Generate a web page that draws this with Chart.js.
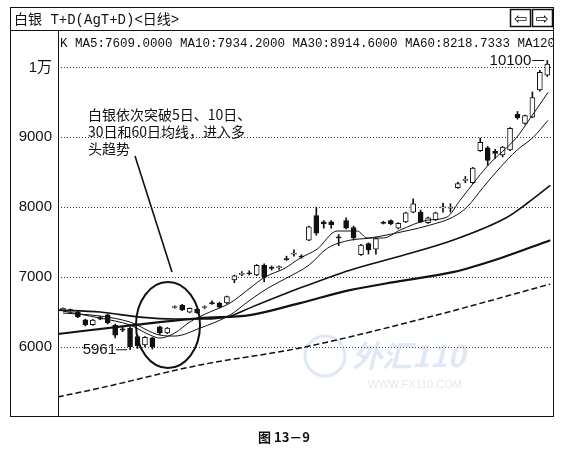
<!DOCTYPE html>
<html>
<head>
<meta charset="utf-8">
<style>
  html, body { margin: 0; padding: 0; background: #fff; }
  canvas { display: block; }
</style>
<script src="https://cdn.jsdelivr.net/npm/chart.js@4.4.1/dist/chart.umd.min.js"></script>
</head>
<body>
<canvas id="kline" width="568" height="452"></canvas>
<script>
// daily candles (index = trading day)
var opens  = [6530, 6535, 6500, 6390, 6320, 6420, 6460, 6310, 6260, 6270, 6150, 6030, 6130, 6290, 6200, 6565, 6600, 6500, 6540, 6565,
              6635, 6630, 6630, 6960, 7040, 7060, 7030, 7170, 7140, 7135, 7265, 7330, 7300, 7530, 7880, 7790, 7790, 7575, 7810, 7710,
              7320, 7480, 7400, 7785, 7810, 7700, 7790, 7930, 7930, 7780, 7820, 7990, 7985, 8280, 8385, 8350, 8810, 8850, 8800, 8750,
              8820, 9330, 9200, 9290, 9680, 9890];
var highs  = [6560, 6545, 6520, 6400, 6395, 6440, 6470, 6330, 6290, 6290, 6170, 6150, 6140, 6300, 6280, 6590, 6610, 6560, 6550, 6590,
              6660, 6640, 6730, 7030, 7080, 7090, 7180, 7190, 7160, 7160, 7300, 7390, 7320, 7730, 8000, 7810, 7810, 7610, 7850, 7730,
              7470, 7490, 7560, 7800, 7820, 7780, 7930, 8120, 7960, 7860, 7930, 8060, 8050, 8360, 8440, 8570, 8990, 8870, 8830, 8870,
              9140, 9370, 9320, 9650, 9960, 10100];
var lows   = [6520, 6510, 6420, 6300, 6310, 6390, 6330, 6130, 6220, 5961, 5980, 6000, 5970, 6180, 6190, 6555, 6520, 6490, 6480, 6550,
              6610, 6560, 6620, 6920, 7020, 7030, 7020, 6930, 7100, 7110, 7240, 7300, 7270, 7520, 7600, 7700, 7700, 7450, 7690, 7530,
              7310, 7330, 7330, 7760, 7750, 7690, 7780, 7920, 7780, 7770, 7810, 7930, 7930, 8270, 8350, 8340, 8800, 8600, 8700, 8720,
              8810, 9260, 9190, 9280, 9660, 9870];
var closes = [6555, 6520, 6430, 6320, 6385, 6400, 6345, 6170, 6240, 6000, 6020, 6140, 6000, 6200, 6270, 6580, 6530, 6555, 6490, 6580,
              6620, 6570, 6720, 7020, 7055, 7045, 7170, 7000, 7125, 7150, 7250, 7345, 7285, 7720, 7630, 7760, 7750, 7560, 7700, 7560,
              7460, 7390, 7550, 7770, 7760, 7770, 7920, 8050, 7790, 7850, 7920, 8005, 8000, 8340, 8400, 8560, 8930, 8670, 8770, 8860,
              9130, 9280, 9310, 9570, 9930, 10050];

// moving averages: [day index, price]
var ma5   = [[0, 6514], [5, 6414], [9, 6314], [11.7, 6171], [13, 6128], [15, 6200], [17, 6357], [19.7, 6500], [22.4, 6628],
             [25.1, 6843], [27.1, 7000], [29.8, 7128], [31.8, 7271], [34.1, 7400], [36.8, 7660], [39.5, 7660], [40.8, 7560],
             [43, 7560], [45.2, 7671], [48.9, 7814], [51.5, 7857], [53.3, 8100], [55.6, 8414], [57.3, 8628], [59.6, 8857],
             [60.9, 9000], [62.7, 9271], [65.1, 9643]];
var ma10  = [[0, 6486], [5, 6443], [9, 6357], [13, 6171], [15, 6157], [18.4, 6271], [22.4, 6457], [25.1, 6671], [27.5, 6843],
             [30, 6986], [33, 7171], [35.5, 7414], [38.5, 7528], [41, 7557], [44, 7614], [46.5, 7671], [49.2, 7743],
             [52.3, 7857], [54.2, 8000], [56.4, 8286], [58.7, 8571], [60.9, 8814], [63.1, 9000], [65.1, 9243]];
var ma30  = [[-0.7, 6528], [5, 6500], [10.3, 6428], [15, 6400], [19, 6400], [22.4, 6440], [25.1, 6560], [31.8, 6843],
             [38.5, 7100], [45.2, 7300], [52.3, 7528], [59.6, 7857], [62.3, 8057], [65.4, 8314]];
var ma60  = [[-0.7, 6186], [9.4, 6314], [18.4, 6414], [25.1, 6457], [31.8, 6628], [38.5, 6814], [45.2, 6943],
             [52.3, 7071], [58.7, 7271], [65.4, 7528]];
var ma120 = [[-0.7, 5286], [5, 5414], [18.4, 5743], [31.8, 5986], [48.6, 6414], [65.4, 6900]];

var priceTicks = [6000, 7000, 8000, 9000, 10000];
var tickText = { 10000: '1万' };

var headerText = 'K MA5:7609.0000 MA10:7934.2000 MA30:8914.6000 MA60:8218.7333 MA120';
var titleText = '白银 T+D(AgT+D)<日线>';
var noteLines = ['白银依次突破5日、10日、', '30日和60日均线，进入多', '头趋势'];
var lowLabel = { day: 9, price: 5961, text: '5961' };
var highLabel = { day: 65, price: 10100, text: '10100' };
var caption = '图 13－9';

(function () {
    'use strict';

    var ink = '#111';

    var bodies = [], wicks = [], bodyFill = [];
    for (var i = 0; i < opens.length; i++) {
        bodies.push({ x: i, y: [opens[i], closes[i]] });
        wicks.push({ x: i, y: [lows[i], highs[i]] });
        bodyFill.push(closes[i] >= opens[i] ? '#fff' : ink);
    }

    function pts(list) {
        return list.map(function (p) { return { x: p[0], y: p[1] }; });
    }

    function maLine(label, list, width, dash) {
        return {
            type: 'line', label: label, data: pts(list), order: 1,
            borderColor: ink, borderWidth: width, borderDash: dash || [],
            pointRadius: 0, cubicInterpolationMode: 'monotone', fill: false
        };
    }

    var decor = {
        id: 'decor',
        beforeDraw: function (chart) {
            var ctx = chart.ctx;
            ctx.save();
            ctx.fillStyle = '#fff';
            ctx.fillRect(0, 0, chart.width, chart.height);
            ctx.restore();
        },
        beforeDatasetsDraw: function (chart) {
            // faint watermark of the scanned page
            var ctx = chart.ctx;
            ctx.save();
            ctx.fillStyle = 'rgba(150,180,220,0.3)';
            ctx.strokeStyle = 'rgba(150,180,220,0.3)';
            ctx.lineWidth = 3;
            ctx.beginPath();
            ctx.arc(325, 356, 20, 0, Math.PI * 2);
            ctx.stroke();
            ctx.font = 'italic bold 30px "Noto Sans CJK SC", sans-serif';
            ctx.fillText('外汇110', 352, 367);
            ctx.font = '11px "Liberation Sans", sans-serif';
            ctx.fillText('WWW.FX110.COM', 368, 388);
            ctx.restore();
        },
        afterDraw: function (chart) {
            var ctx = chart.ctx, a = chart.chartArea;
            var xs = chart.scales.x, ys = chart.scales.y;
            ctx.save();
            ctx.strokeStyle = ink;
            ctx.fillStyle = ink;
            ctx.lineWidth = 1;

            // frame, title bar, axis divider
            ctx.strokeRect(10.5, 7.5, 543, 409);
            ctx.beginPath();
            ctx.moveTo(10, 30.5); ctx.lineTo(554, 30.5);
            ctx.moveTo(a.left + 0.5, 30); ctx.lineTo(a.left + 0.5, 417);
            ctx.stroke();

            ctx.textBaseline = 'alphabetic';
            ctx.font = '14px "Liberation Mono", "Noto Sans CJK SC", monospace';
            ctx.fillText(titleText, 14, 24);

            // arrow buttons
            ctx.lineWidth = 1.5;
            ctx.strokeRect(510.5, 9.5, 20, 17);
            ctx.strokeRect(532.5, 9.5, 20, 17);
            ctx.font = '16px "DejaVu Sans", sans-serif';
            ctx.textAlign = 'center';
            ctx.fillText('⇦', 520.5, 24);
            ctx.fillText('⇨', 542.5, 24);
            ctx.lineWidth = 1;

            // indicator header, clipped at the plot edge
            ctx.save();
            ctx.beginPath();
            ctx.rect(a.left + 1, a.top, a.right - a.left - 2, 22);
            ctx.clip();
            ctx.textAlign = 'left';
            ctx.font = '12.5px "Liberation Mono", monospace';
            ctx.fillText(headerText, a.left + 2, 47);
            ctx.restore();

            // note text and pointer
            ctx.textAlign = 'left';
            ctx.font = '14px "Noto Sans CJK SC", sans-serif';
            noteLines.forEach(function (t, k) {
                ctx.fillText(t, 88, 120 + k * 17);
            });
            ctx.lineWidth = 1.6;
            ctx.beginPath();
            ctx.moveTo(135, 156); ctx.lineTo(172, 272);
            ctx.stroke();

            // circle round the breakout days
            ctx.lineWidth = 2;
            ctx.beginPath();
            ctx.ellipse(168, 325, 32, 43, 0, 0, Math.PI * 2);
            ctx.stroke();

            // low / high marks
            ctx.lineWidth = 1;
            ctx.font = '15px "Liberation Sans", sans-serif';
            ctx.textBaseline = 'middle';
            var lx = xs.getPixelForValue(lowLabel.day) - 3, ly = ys.getPixelForValue(lowLabel.price);
            ctx.beginPath();
            ctx.moveTo(lx - 11, ly); ctx.lineTo(lx, ly);
            ctx.stroke();
            ctx.textAlign = 'right';
            ctx.fillText(lowLabel.text, lx - 11, ly);

            var hx = xs.getPixelForValue(highLabel.day) - 3, hy = ys.getPixelForValue(highLabel.price);
            ctx.beginPath();
            ctx.moveTo(hx - 12, hy); ctx.lineTo(hx, hy);
            ctx.stroke();
            ctx.fillText(highLabel.text, hx - 13, hy);

            // figure caption
            ctx.textAlign = 'center';
            ctx.font = 'bold 13px "Noto Sans CJK SC", sans-serif';
            ctx.fillText(caption, 284, 437);
            ctx.restore();
        }
    };

    new Chart(document.getElementById('kline').getContext('2d'), {
        type: 'bar',
        data: {
            datasets: [
                maLine('MA5', ma5, 1),
                maLine('MA10', ma10, 1),
                maLine('MA30', ma30, 1.6),
                maLine('MA60', ma60, 2.2),
                maLine('MA120', ma120, 1.5, [6, 3]),
                {
                    label: 'K', data: bodies, order: 2, grouped: false,
                    barThickness: 5, minBarLength: 1,
                    backgroundColor: bodyFill, borderColor: ink, borderWidth: 1, borderSkipped: false
                },
                {
                    label: 'range', data: wicks, order: 3, grouped: false,
                    barThickness: 1, backgroundColor: ink, borderWidth: 0
                }
            ]
        },
        options: {
            responsive: false,
            animation: false,
            devicePixelRatio: 1,
            layout: { padding: { left: 10, top: 30, right: 14, bottom: 36 } },
            plugins: { legend: { display: false }, tooltip: { enabled: false } },
            scales: {
                x: { type: 'linear', display: false, offset: false, min: -0.67, max: 65.9 },
                y: {
                    min: 5013, max: 10536,
                    afterBuildTicks: function (s) {
                        s.ticks = priceTicks.map(function (v) { return { value: v }; });
                    },
                    afterFit: function (s) { s.width = 48; },
                    border: { display: false, dash: [1, 2] },
                    grid: { color: '#333', lineWidth: 1, drawTicks: false },
                    ticks: {
                        padding: 6, color: ink,
                        font: { family: '"Liberation Sans", "Noto Sans CJK SC", sans-serif', size: 15 },
                        callback: function (v) { return tickText[v] || String(v); }
                    }
                }
            }
        },
        plugins: [decor]
    });
})();
</script>
</body>
</html>
